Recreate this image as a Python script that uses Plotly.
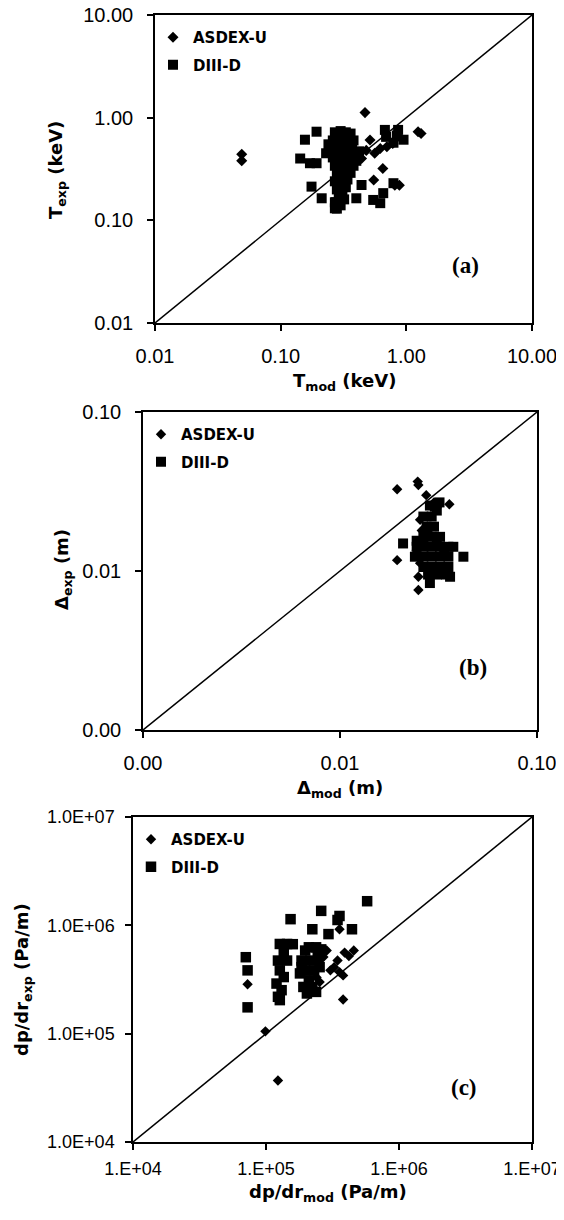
import math
import plotly.graph_objects as go

# ---------------- Panel (a): T_exp vs T_mod (keV) ----------------
a_asdex_x = [0.049, 0.049, 0.469, 1.24, 1.31, 0.514, 0.62, 0.44, 0.65, 0.55, 0.81, 0.88,
             0.48, 0.78, 0.85, 0.56, 0.70, 0.42]
a_asdex_y = [0.44, 0.38, 1.12, 0.73, 0.70, 0.607, 0.50, 0.40, 0.32, 0.247, 0.22, 0.22,
             0.48, 0.56, 0.65, 0.45, 0.52, 0.44]
a_diii_x = [0.193, 0.156, 0.143, 0.171, 0.193, 0.176, 0.212, 0.27, 0.276, 0.44, 0.40, 0.545,
            0.62, 0.655, 0.79, 0.675, 0.86, 0.95, 0.79, 0.69, 0.84,
            0.27, 0.30, 0.33, 0.36, 0.29, 0.32, 0.35, 0.38, 0.26, 0.28, 0.31, 0.34, 0.37,
            0.25, 0.27, 0.30, 0.33, 0.36, 0.39, 0.26, 0.29, 0.32, 0.35, 0.38, 0.27, 0.30,
            0.33, 0.36, 0.28, 0.31, 0.34, 0.27, 0.30, 0.33, 0.28, 0.31, 0.29, 0.32, 0.27,
            0.30, 0.28, 0.24, 0.23, 0.42, 0.40]
a_diii_y = [0.73, 0.61, 0.40, 0.36, 0.36, 0.213, 0.164, 0.131, 0.15, 0.221, 0.164, 0.158,
            0.147, 0.184, 0.23, 0.76, 0.76, 0.61, 0.57, 0.65, 0.67,
            0.72, 0.74, 0.72, 0.70, 0.66, 0.64, 0.62, 0.60, 0.60, 0.56, 0.55, 0.53, 0.50,
            0.50, 0.47, 0.46, 0.45, 0.43, 0.42, 0.41, 0.39, 0.38, 0.36, 0.34, 0.34, 0.32,
            0.31, 0.29, 0.28, 0.27, 0.25, 0.24, 0.23, 0.21, 0.20, 0.19, 0.17, 0.16, 0.15,
            0.14, 0.13, 0.55, 0.45, 0.47, 0.38]
a_ticks = [0.01, 0.1, 1, 10]
a_ticktext = ["0.01", "0.10", "1.00", "10.00"]

# ---------------- Panel (b): Delta_exp vs Delta_mod (m) ----------------
b_asdex_x = [0.0195, 0.0248, 0.025, 0.0274, 0.0359, 0.0195, 0.025, 0.025, 0.0255, 0.0255,
             0.026, 0.0265, 0.030, 0.031, 0.0245]
b_asdex_y = [0.0327, 0.0365, 0.0347, 0.030, 0.0263, 0.0117, 0.0076, 0.0092, 0.0112, 0.021,
             0.018, 0.0155, 0.027, 0.025, 0.0135]
b_diii_x = [0.0209, 0.0423, 0.0286, 0.0362, 0.0376, 0.0303, 0.0286, 0.031, 0.032,
            0.0265, 0.0292, 0.0275, 0.030, 0.0265, 0.0292, 0.0322, 0.0245, 0.0265, 0.0292,
            0.0322, 0.0355, 0.024, 0.0265, 0.0292, 0.0322, 0.0355, 0.0265, 0.0292, 0.0322,
            0.0355, 0.028, 0.031, 0.0345, 0.0278, 0.031, 0.0338, 0.0245]
b_diii_y = [0.0149, 0.0123, 0.0084, 0.0092, 0.0142, 0.0254, 0.0258, 0.024, 0.027,
            0.022, 0.022, 0.019, 0.019, 0.0164, 0.0164, 0.0164, 0.0142, 0.0142, 0.0142,
            0.0142, 0.0142, 0.0123, 0.0123, 0.0123, 0.0123, 0.0123, 0.0106, 0.0106, 0.0106,
            0.0106, 0.0095, 0.0095, 0.0095, 0.0178, 0.0153, 0.0133, 0.0155]
b_ticks = [0.001, 0.01, 0.1]
b_ticktext = ["0.00", "0.01", "0.10"]

# ---------------- Panel (c): dp/dr_exp vs dp/dr_mod (Pa/m) ----------------
c_asdex_x = [9.9e4, 1.23e5, 7.27e4, 3.8e5, 3.57e5, 4.57e5, 3.8e5, 2.86e5, 3.45e5, 3.05e5,
             2.53e5, 2.23e5, 3.9e5, 4.2e5, 3.25e5, 2.7e5, 3.57e5, 2.4e5]
c_asdex_y = [1.05e5, 3.7e4, 2.86e5, 2.07e5, 9.2e5, 5.85e5, 3.45e5, 5.85e5, 4.73e5, 3.84e5,
             3.0e5, 2.6e5, 5.6e5, 5.2e5, 4.1e5, 5.1e5, 3.7e5, 3.3e5]
c_diii_x = [5.76e5, 2.6e5, 3.57e5, 3.45e5, 1.53e5, 4.43e5, 2.23e5, 2.95e5, 7.05e4, 7.27e4, 7.27e4,
            1.27e5, 1.44e5, 1.59e5, 1.36e5, 1.23e5, 1.44e5, 1.27e5, 1.36e5, 1.2e5, 1.31e5,
            1.23e5, 1.27e5,
            2.1e5, 2.38e5, 1.85e5, 2.16e5, 2.45e5, 1.97e5, 2.3e5, 2.1e5, 1.91e5, 2.23e5,
            2.03e5, 2.38e5, 2.6e5, 2.53e5, 1.97e5, 1.85e5, 1.8e5]
c_diii_y = [1.67e6, 1.36e6, 1.22e6, 1.12e6, 1.14e6, 9.2e5, 9.2e5, 8.3e5, 5.08e5, 3.84e5, 1.75e5,
            6.73e5, 6.73e5, 6.7e5, 5.45e5, 4.73e5, 4.73e5, 3.84e5, 3.33e5, 2.9e5, 2.52e5,
            2.19e5, 2.04e5,
            6.27e5, 6.27e5, 4.73e5, 4.73e5, 5.08e5, 3.84e5, 3.84e5, 3.11e5, 2.7e5, 2.7e5,
            2.35e5, 2.43e5, 6.0e5, 4.11e5, 5.85e5, 4.11e5, 3.6e5]
c_ticks = [1e4, 1e5, 1e6, 1e7]
c_xticktext = ["1.E+04", "1.E+05", "1.E+06", "1.E+07"]
c_yticktext = ["1.0E+04", "1.0E+05", "1.0E+06", "1.0E+07"]

series_names = ["ASDEX-U", "DIII-D"]

# ---------------- layout helpers ----------------
# The page body has an 8px margin; the figure fills the rest of the 564x1220 window.
PAGE_W, PAGE_H, OFF = 564, 1220, 8
W, H = PAGE_W - OFF, PAGE_H - OFF


def fx(x):
    return (x - OFF) / W


def fy(y):
    return 1 - (y - OFF) / H


# plot boxes in window pixels: left, top, right, bottom
boxes = {
    "a": (155, 15, 532, 323),
    "b": (143, 412, 537, 730),
    "c": (133, 817, 532, 1142),
}

fig = go.Figure()

panels = [
    ("a", "x", "y", "legend", a_ticks, a_asdex_x, a_asdex_y, a_diii_x, a_diii_y, 8.5, 10),
    ("b", "x2", "y2", "legend2", b_ticks, b_asdex_x, b_asdex_y, b_diii_x, b_diii_y, 8, 10),
    ("c", "x3", "y3", "legend3", c_ticks, c_asdex_x, c_asdex_y, c_diii_x, c_diii_y, 8, 10.5),
]

for key, xa, ya, leg, ticks, ax, ay, dx, dy, dsize, ssize in panels:
    lo, hi = ticks[0], ticks[-1]
    fig.add_trace(go.Scatter(x=[lo, hi], y=[lo, hi], mode="lines",
                             line=dict(color="black", width=1.5),
                             xaxis=xa, yaxis=ya, showlegend=False, hoverinfo="skip"))
    fig.add_trace(go.Scatter(x=ax, y=ay, mode="markers", name=series_names[0],
                             marker=dict(symbol="diamond", size=dsize, color="black",
                                         line=dict(width=0)),
                             xaxis=xa, yaxis=ya, legend=leg, legendgroup=key + "1"))
    fig.add_trace(go.Scatter(x=dx, y=dy, mode="markers", name=series_names[1],
                             marker=dict(symbol="square", size=ssize, color="black",
                                         line=dict(width=0)),
                             xaxis=xa, yaxis=ya, legend=leg, legendgroup=key + "2"))


def axis(box, horizontal, ticks, ticktext, fontsize, anchor, standoff):
    l, t, r, b = box
    d = dict(type="log", range=[math.log10(ticks[0]), math.log10(ticks[-1])],
             showline=True, linecolor="black", linewidth=1.5, mirror=True,
             ticks="outside", ticklen=6, tickwidth=1.5, tickcolor="black",
             showgrid=False, zeroline=False, automargin=False,
             ticklabeloverflow="allow",
             tickmode="array", tickvals=ticks, ticktext=ticktext,
             tickfont=dict(family="Liberation Sans", size=fontsize, color="black"),
             anchor=anchor, ticklabelstandoff=standoff)
    if horizontal:
        d["domain"] = [fx(l), fx(r)]
    else:
        d["domain"] = [fy(b), fy(t)]
    return d


legend_font = dict(family="DejaVu Sans", size=15, color="black", weight="bold")


def legend_at(box):
    l, t, r, b = box
    return dict(x=fx(l - 2), y=fy(t + 6), xanchor="left", yanchor="top",
                bgcolor="rgba(0,0,0,0)", borderwidth=0, font=legend_font,
                tracegroupgap=5, itemsizing="trace")


fig.update_layout(
    template="none",
    width=W, height=H, autosize=False,
    margin=dict(l=0, r=0, t=0, b=0, pad=0),
    paper_bgcolor="white", plot_bgcolor="white",
    showlegend=True,
    xaxis=axis(boxes["a"], True, a_ticks, a_ticktext, 20, "y", 8),
    yaxis=axis(boxes["a"], False, a_ticks, a_ticktext, 20, "x", 10),
    xaxis2=axis(boxes["b"], True, b_ticks, b_ticktext, 20, "y2", 8),
    yaxis2=axis(boxes["b"], False, b_ticks, b_ticktext, 20, "x2", 10),
    xaxis3=axis(boxes["c"], True, c_ticks, c_xticktext, 18, "y3", 4),
    yaxis3=axis(boxes["c"], False, c_ticks, c_yticktext, 18, "x3", 7),
    legend=legend_at(boxes["a"]),
    legend2=legend_at(boxes["b"]),
    legend3=legend_at(boxes["c"]),
)

title_font = dict(family="DejaVu Sans", size=18, color="black", weight="bold")
titles = [
    ("T<sub>mod</sub> (keV)", 344, 382, 0),
    ("T<sub>exp</sub> (keV)", 57, 170, -90),
    ("Δ<sub>mod</sub> (m)", 340, 789, 0),
    ("Δ<sub>exp</sub> (m)", 63, 570, -90),
    ("dp/dr<sub>mod</sub> (Pa/m)", 328, 1193, 0),
    ("dp/dr<sub>exp</sub> (Pa/m)", 23, 980, -90),
]
for text, x, y, ang in titles:
    fig.add_annotation(text=text, x=fx(x), y=fy(y), xref="paper", yref="paper",
                       showarrow=False, textangle=ang, font=title_font,
                       xanchor="center", yanchor="middle")

letters = [("(a)", 465, 265), ("(b)", 473, 667), ("(c)", 464, 1087)]
for text, x, y in letters:
    fig.add_annotation(text=text, x=fx(x), y=fy(y), xref="paper", yref="paper",
                       showarrow=False,
                       font=dict(family="Liberation Serif", size=23, color="black",
                                 weight="bold"),
                       xanchor="center", yanchor="middle")

fig.write_html("out.html")
